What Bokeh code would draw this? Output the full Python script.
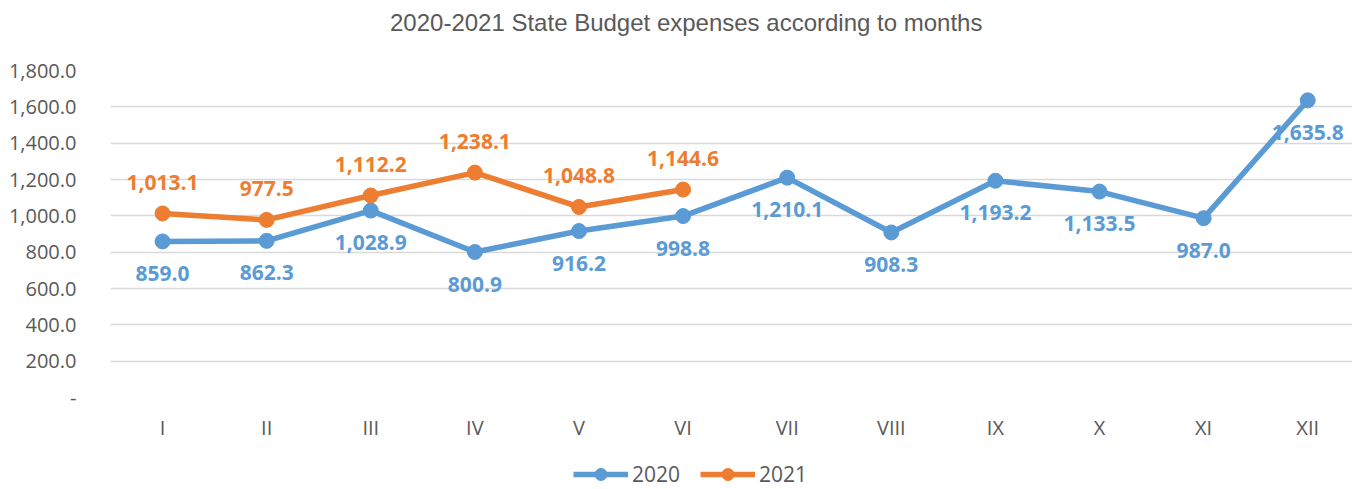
from bokeh.plotting import figure
from bokeh.layouts import column
from bokeh.models import (ColumnDataSource, Range1d, FixedTicker, NumeralTickFormatter,
                          Legend, LegendItem, Div)
from bokeh.core.properties import value
from bokeh.embed import file_html
from bokeh.resources import INLINE

months = ["I", "II", "III", "IV", "V", "VI", "VII", "VIII", "IX", "X", "XI", "XII"]
values_2020 = [859.0, 862.3, 1028.9, 800.9, 916.2, 998.8, 1210.1, 908.3, 1193.2, 1133.5, 987.0, 1635.8]
values_2021 = [1013.1, 977.5, 1112.2, 1238.1, 1048.8, 1144.6]
series_names = ["2020", "2021"]
y_ticks = [0, 200, 400, 600, 800, 1000, 1200, 1400, 1600, 1800]
title_text = "2020-2021 State Budget expenses according to months"

BLUE = "#5B9BD5"
ORANGE = "#ED7D31"
GREY = "#595959"

def src(vals):
    xs = list(range(1, len(vals) + 1))
    return ColumnDataSource(dict(x=xs, y=vals, lab=[f"{v:,.1f}" for v in vals]))

s20 = src(values_2020)
s21 = src(values_2021)

# title strip
title_div = Div(
    text=(f'<div style="font-family:\'Liberation Sans\';font-size:24px;color:{GREY};'
          f'line-height:46px;height:46px;padding-left:390px;white-space:nowrap;margin:0;">'
          f'{title_text}</div>'),
    width=1354, height=46, margin=0)

p = figure(width=1354, height=404, output_backend="svg", toolbar_location=None,
           x_range=Range1d(0.5, 12.43), y_range=Range1d(0, 1800),
           min_border_left=110, min_border_right=2, min_border_top=24, min_border_bottom=53)
p.outline_line_color = None

# axes
p.xaxis.ticker = FixedTicker(ticks=list(range(1, 13)))
p.xaxis.major_label_overrides = {i + 1: m for i, m in enumerate(months)}
p.yaxis.ticker = FixedTicker(ticks=y_ticks)
p.yaxis.formatter = NumeralTickFormatter(format="0,0.0")
p.yaxis.major_label_overrides = {0: "-"}
for ax in (p.xaxis[0], p.yaxis[0]):
    ax.axis_line_color = None
    ax.major_tick_line_color = None
    ax.minor_tick_line_color = None
    ax.major_label_text_font = "Open Sans"
    ax.major_label_text_font_size = "20px"
    ax.major_label_text_color = GREY
p.yaxis.major_label_standoff = 28
p.xaxis.major_label_standoff = 10
p.xgrid.grid_line_color = None
p.ygrid.grid_line_color = "#D9D9D9"
p.ygrid.grid_line_width = 1.5

# data labels (drawn first so lines go over them)
p.text(x="x", y="y", text="lab", source=s20, y_offset=32, text_align="center",
       text_baseline="middle", text_color=BLUE, text_font=value("Open Sans"),
       text_font_style="bold", text_font_size="21px")
p.text(x="x", y="y", text="lab", source=s21, y_offset=-31, text_align="center",
       text_baseline="middle", text_color=ORANGE, text_font=value("Open Sans"),
       text_font_style="bold", text_font_size="21px")

p.line("x", "y", source=s20, line_color=BLUE, line_width=5.5)
p.scatter("x", "y", source=s20, size=15, fill_color=BLUE, line_color=BLUE)
p.line("x", "y", source=s21, line_color=ORANGE, line_width=5.5)
p.scatter("x", "y", source=s21, size=15, fill_color=ORANGE, line_color=ORANGE)

# legend strip below the chart: same series, drawn in a view range that shows none of them
q = figure(width=1354, height=39, output_backend="svg", toolbar_location=None,
           x_range=Range1d(-3, -2), y_range=Range1d(-3, -2),
           x_axis_location=None, y_axis_location=None,
           min_border_left=0, min_border_right=0, min_border_top=0, min_border_bottom=0)
q.outline_line_color = None
q.xgrid.grid_line_color = None
q.ygrid.grid_line_color = None
items = []
for name, s, col in zip(series_names, [s20, s21], [BLUE, ORANGE]):
    lr = q.line("x", "y", source=s, line_color=col, line_width=5.5)
    cr = q.scatter("x", "y", source=s, size=13, fill_color=col, line_color=col)
    items.append(LegendItem(label=name, renderers=[lr, cr]))
legend = Legend(items=items, orientation="horizontal", location=(463, 0),
                glyph_width=55, glyph_height=30, label_standoff=4, spacing=20,
                padding=0, margin=0, border_line_color=None, background_fill_alpha=0,
                label_text_font="Open Sans", label_text_font_size="21px",
                label_text_color=GREY)
q.add_layout(legend, "center")

layout = column(title_div, p, q, spacing=0)
open("out.html", "w").write(file_html(layout, INLINE))
